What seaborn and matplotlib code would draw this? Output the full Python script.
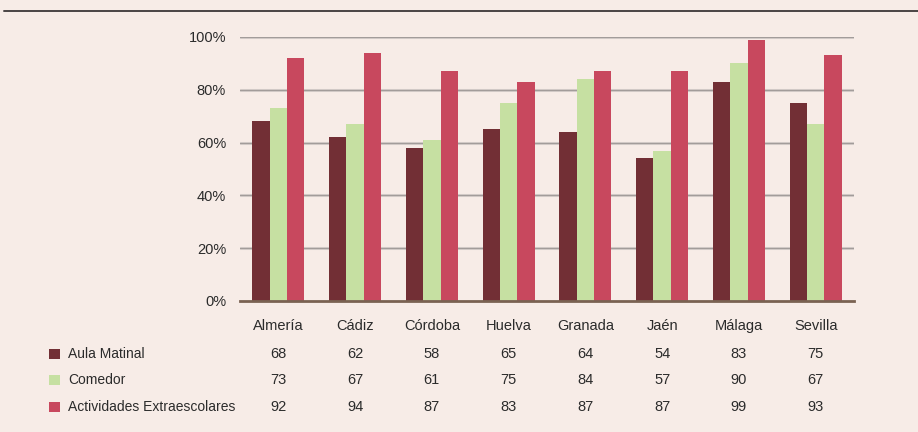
import matplotlib
matplotlib.use("Agg")
import matplotlib.pyplot as plt
import seaborn as sns
import pandas as pd
from matplotlib.lines import Line2D
from matplotlib.patches import Rectangle

provincias = ["Almería", "Cádiz", "Córdoba", "Huelva", "Granada", "Jaén", "Málaga", "Sevilla"]
aula_matinal = [68, 62, 58, 65, 64, 54, 83, 75]
comedor = [73, 67, 61, 75, 84, 57, 90, 67]
extraescolares = [92, 94, 87, 83, 87, 87, 99, 93]
servicios = ["Aula Matinal", "Comedor", "Actividades Extraescolares"]
y_ticks = [0, 20, 40, 60, 80, 100]

colores = ["#722F35", "#C6E0A2", "#C8485E"]
fondo = "#F7ECE7"
texto = "#2B2B2B"

sns.set_theme(style="white")
plt.rcParams["font.family"] = ["Liberation Sans", "DejaVu Sans"]

df = pd.DataFrame({
    "provincia": provincias * 3,
    "servicio": [s for s in servicios for _ in provincias],
    "valor": aula_matinal + comedor + extraescolares,
})

fig = plt.figure(figsize=(9.18, 4.32), dpi=100, facecolor=fondo)
ax = fig.add_axes([240 / 918, 1 - 301 / 432, 614 / 918, 264 / 432])
ax.set_facecolor(fondo)

sns.barplot(data=df, x="provincia", y="valor", hue="servicio", order=provincias,
            hue_order=servicios, palette=colores, width=0.68, saturation=1,
            linewidth=0, legend=False, ax=ax)

ax.set_ylim(0, 100)
ax.set_xlim(-0.5, len(provincias) - 0.5)
ax.set_yticks(y_ticks)
ax.set_yticklabels([f"{v}%" for v in y_ticks], fontsize=10.5, color=texto)
ax.tick_params(axis="y", length=0, pad=10)
ax.set_xticks([])
ax.set_xlabel("")
ax.set_ylabel("")
for v in y_ticks[1:]:
    ax.axhline(v, color="#DDD5D1", lw=2.2, zorder=0)
    ax.axhline(v, color="#A29C9A", lw=1.0, zorder=0.5)
for s in ["top", "right", "left"]:
    ax.spines[s].set_visible(False)
ax.spines["bottom"].set_color("#7A6252")
ax.spines["bottom"].set_linewidth(2)
ax.spines["bottom"].set_zorder(5)

# top rule
fig.add_artist(Line2D([4 / 918, 1], [1 - 11 / 432] * 2, color="#4A4444", lw=1.4))

# data table under the chart
def fx(px):
    return px / 918

def fy(py):
    return 1 - py / 432

centros = [ax.transData.transform((i, 0))[0] / fig.dpi / fig.get_figwidth() for i in range(len(provincias))]
for cx, name in zip(centros, provincias):
    fig.text(cx, fy(326), name, ha="center", va="center", fontsize=10.5, color=texto)

filas_y = [354, 380, 407]
for fila, (serie, nombre, color) in enumerate(zip([aula_matinal, comedor, extraescolares], servicios, colores)):
    yy = filas_y[fila]
    fig.add_artist(Rectangle((fx(49), fy(yy + 5)), 11 / 918, 10 / 432, color=color, lw=0,
                             transform=fig.transFigure))
    fig.text(fx(68), fy(yy), nombre, ha="left", va="center", fontsize=10, color=texto)
    for cx, v in zip(centros, serie):
        fig.text(cx, fy(yy), str(v), ha="center", va="center", fontsize=10.5, color=texto)

fig.savefig("out.png", dpi=100, facecolor=fondo)
